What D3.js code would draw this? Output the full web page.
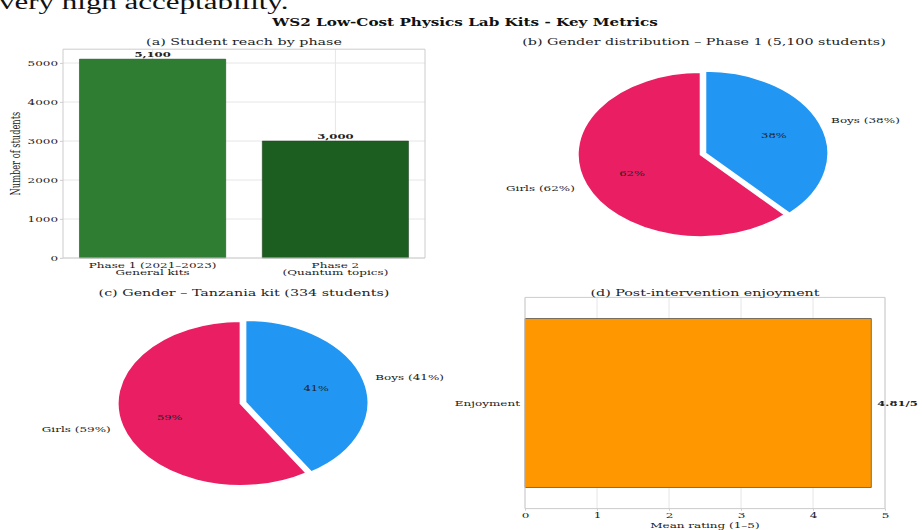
<!DOCTYPE html>
<html>
<head>
<meta charset="utf-8">
<script src="https://cdn.jsdelivr.net/npm/d3@7"></script>
<style>
  html, body { margin: 0; padding: 0; background: #ffffff; }
  svg { display: block; }
  text { font-family: "DejaVu Serif", serif; fill: #222; }
</style>
</head>
<body>
<script>
// ---------------- DATA ----------------
const pageText = "very high acceptability.";
const mainTitle = "WS2 Low-Cost Physics Lab Kits - Key Metrics";
const panelTitles = [
  "(a) Student reach by phase",
  "(b) Gender distribution – Phase 1 (5,100 students)",
  "(c) Gender – Tanzania kit (334 students)",
  "(d) Post-intervention enjoyment"
];
const phaseNames = [["Phase 1 (2021–2023)", "General kits"], ["Phase 2", "(Quantum topics)"]];
const phaseStudents = [5100, 3000];
const phaseValueLabels = ["5,100", "3,000"];
const studentTicks = [0, 1000, 2000, 3000, 4000, 5000];
const genderNames = ["Boys", "Girls"];
const phase1GenderPct = [38, 62];
const tanzaniaGenderPct = [41, 59];
const enjoymentCategories = ["Enjoyment"];
const enjoymentMeans = [4.81];
const enjoymentValueLabels = ["4.81/5"];
const ratingTicks = [0, 1, 2, 3, 4, 5];

// ---------------- SETUP ----------------
const W = 922, H = 530, K = 790 / 530;   // figure drawn in a virtual space, squashed vertically
const VH = H * K;
const svg = d3.select("body").append("svg")
  .attr("width", W).attr("height", H)
  .attr("viewBox", `0 0 ${W} ${VH}`)
  .attr("preserveAspectRatio", "none");

const barColors = ["#2e7d32", "#1b5e20"];
const genderColors = ["#2196f3", "#e91e63"];
const gridColor = "#e6e6e6", spineColor = "#cccccc";
const FS = "12px", TFS = "14.3px";

function nsLine(g) { return g.attr("vector-effect", "non-scaling-stroke"); }

// page text (cut off at top)
svg.append("text").attr("x", -1).attr("y", 12.7)
  .style("font-family", "'Liberation Serif', serif").style("font-size", "31px").style("fill", "#111")
  .text(pageText);

// main title
svg.append("text").attr("x", 465).attr("y", 38.5).attr("text-anchor", "middle")
  .style("font-size", "15.2px").style("font-weight", "bold").style("fill", "#111")
  .text(mainTitle);

// ---------------- PANEL A ----------------
(function () {
  const x0 = 63, x1 = 425;
  const yMax = d3.max(phaseStudents) * 1.05;
  const y = d3.scaleLinear().domain([0, yMax]).range([258 * K, 49.2 * K]);
  const x = d3.scaleBand().domain(d3.range(phaseStudents.length)).range([x0, x1])
    .paddingInner(0.2).paddingOuter(0.09);
  const g = svg.append("g");

  g.selectAll(".hg").data(studentTicks).enter().append("line")
    .attr("x1", x0).attr("x2", x1).attr("y1", d => y(d)).attr("y2", d => y(d))
    .attr("stroke", gridColor).attr("stroke-width", 1).call(nsLine);
  g.selectAll(".vg").data(d3.range(phaseStudents.length)).enter().append("line")
    .attr("x1", d => x(d) + x.bandwidth() / 2).attr("x2", d => x(d) + x.bandwidth() / 2)
    .attr("y1", y.range()[0]).attr("y2", y.range()[1])
    .attr("stroke", gridColor).attr("stroke-width", 1).call(nsLine);

  g.selectAll(".bar").data(phaseStudents).enter().append("rect")
    .attr("x", (d, i) => x(i)).attr("width", x.bandwidth())
    .attr("y", d => y(d)).attr("height", d => y(0) - y(d))
    .attr("fill", (d, i) => barColors[i])
    .attr("stroke", "#1a3a1a").attr("stroke-width", 0.5).call(nsLine);

  g.selectAll(".vl").data(phaseStudents).enter().append("text")
    .attr("x", (d, i) => x(i) + x.bandwidth() / 2).attr("y", d => y(d) - 3.5)
    .attr("text-anchor", "middle").style("font-size", "11.6px").style("font-weight", "bold")
    .text((d, i) => phaseValueLabels[i]);

  g.append("rect").attr("x", x0).attr("y", y.range()[1]).attr("width", x1 - x0)
    .attr("height", y.range()[0] - y.range()[1])
    .attr("fill", "none").attr("stroke", spineColor).attr("stroke-width", 1).call(nsLine);

  const ya = g.append("g").attr("transform", `translate(${x0},0)`)
    .call(d3.axisLeft(y).tickValues(studentTicks).tickFormat(d3.format("d")).tickSize(3).tickPadding(2));
  ya.select(".domain").remove();
  ya.selectAll("line").attr("stroke", spineColor).call(nsLine);
  ya.selectAll("text").style("font-size", FS).style("font-family", "'DejaVu Serif', serif").attr("fill", "#333");

  const xl = g.selectAll(".xl").data(phaseNames).enter().append("text")
    .attr("text-anchor", "middle").style("font-size", FS).attr("fill", "#333");
  xl.each(function (lines, i) {
    const t = d3.select(this);
    lines.forEach((ln, j) => {
      t.append("tspan").attr("x", x(i) + x.bandwidth() / 2).attr("y", 399 + j * 11.5).text(ln);
    });
  });

  g.append("text").attr("transform", `translate(20,${(y.range()[0] + y.range()[1]) / 2}) rotate(-90)`)
    .attr("text-anchor", "middle").style("font-size", "12.3px").attr("fill", "#333")
    .text("Number of students");

  g.append("text").attr("x", (x0 + x1) / 2).attr("y", 67.5).attr("text-anchor", "middle")
    .style("font-size", TFS).attr("fill", "#333").text(panelTitles[0]);
})();

// ---------------- PIES ----------------
function drawPie(values, cx, cy, r, title, titleX, titleY) {
  const g = svg.append("g");
  const pie = d3.pie().sort(null).value(d => d)(values);
  const arc = d3.arc().innerRadius(0).outerRadius(r);
  const explode = 0.02 * r;
  pie.forEach((p, i) => {
    const a = (p.startAngle + p.endAngle) / 2;
    const ox = cx + Math.sin(a) * explode, oy = cy - Math.cos(a) * explode;
    g.append("path").attr("d", arc(p)).attr("transform", `translate(${ox},${oy})`)
      .attr("fill", genderColors[i]).attr("stroke", "#fff").attr("stroke-width", 2).call(nsLine);
    const lx = ox + Math.sin(a) * r * 1.1, ly = oy - Math.cos(a) * r * 1.1;
    g.append("text").attr("x", lx).attr("y", ly).attr("dy", "0.35em")
      .attr("text-anchor", Math.sin(a) > 0 ? "start" : "end")
      .style("font-size", FS).attr("fill", "#333")
      .text(`${genderNames[i]} (${values[i]}%)`);
    const px = ox + Math.sin(a) * r * 0.6, py = oy - Math.cos(a) * r * 0.6;
    g.append("text").attr("x", px).attr("y", py).attr("dy", "0.35em").attr("text-anchor", "middle")
      .style("font-size", "11.5px").attr("fill", "#222")
      .text(`${values[i]}%`);
  });
  g.append("text").attr("x", titleX).attr("y", titleY).attr("text-anchor", "middle")
    .style("font-size", TFS).attr("fill", "#333").text(title);
}
drawPie(phase1GenderPct, 703, 154 * K, 123, panelTitles[1], 704, 67.5);
drawPie(tanzaniaGenderPct, 243, 403 * K, 123, panelTitles[2], 244, 296 * K);

// ---------------- PANEL D ----------------
(function () {
  const x0 = 525, x1 = 885;
  const x = d3.scaleLinear().domain([0, 5]).range([x0, x1]);
  const y = d3.scaleBand().domain(enjoymentCategories).range([297.4 * K, 508.6 * K])
    .paddingInner(0.2).paddingOuter(0.05);
  const g = svg.append("g");

  g.selectAll(".vg").data(ratingTicks).enter().append("line")
    .attr("x1", d => x(d)).attr("x2", d => x(d))
    .attr("y1", y.range()[0]).attr("y2", y.range()[1])
    .attr("stroke", gridColor).attr("stroke-width", 1).call(nsLine);

  g.selectAll(".bar").data(enjoymentMeans).enter().append("rect")
    .attr("x", x(0)).attr("width", d => x(d) - x(0))
    .attr("y", (d, i) => y(enjoymentCategories[i])).attr("height", y.bandwidth())
    .attr("fill", "#ff9800").attr("stroke", "#555").attr("stroke-width", 0.8).call(nsLine);

  g.selectAll(".vl").data(enjoymentMeans).enter().append("text")
    .attr("x", d => x(d) + 6).attr("y", (d, i) => y(enjoymentCategories[i]) + y.bandwidth() / 2)
    .attr("dy", "0.35em").style("font-size", "11.6px").style("font-weight", "bold")
    .text((d, i) => enjoymentValueLabels[i]);

  g.append("rect").attr("x", x0).attr("y", y.range()[0]).attr("width", x1 - x0)
    .attr("height", y.range()[1] - y.range()[0])
    .attr("fill", "none").attr("stroke", spineColor).attr("stroke-width", 1).call(nsLine);

  const xa = g.append("g").attr("transform", `translate(0,${y.range()[1]})`)
    .call(d3.axisBottom(x).tickValues(ratingTicks).tickFormat(d3.format("d")).tickSize(3).tickPadding(2));
  xa.select(".domain").remove();
  xa.selectAll("line").attr("stroke", spineColor).call(nsLine);
  xa.selectAll("text").style("font-size", FS).style("font-family", "'DejaVu Serif', serif").attr("fill", "#333");

  g.selectAll(".yl").data(enjoymentCategories).enter().append("text")
    .attr("x", x0 - 5).attr("y", d => y(d) + y.bandwidth() / 2).attr("dy", "0.35em")
    .attr("text-anchor", "end").style("font-size", FS).attr("fill", "#333").text(d => d);

  g.append("text").attr("x", (x0 + x1) / 2).attr("y", 787).attr("text-anchor", "middle")
    .style("font-size", FS).attr("fill", "#333").text("Mean rating (1–5)");

  g.append("text").attr("x", (x0 + x1) / 2).attr("y", 296 * K).attr("text-anchor", "middle")
    .style("font-size", TFS).attr("fill", "#333").text(panelTitles[3]);
})();
</script>
</body>
</html>
